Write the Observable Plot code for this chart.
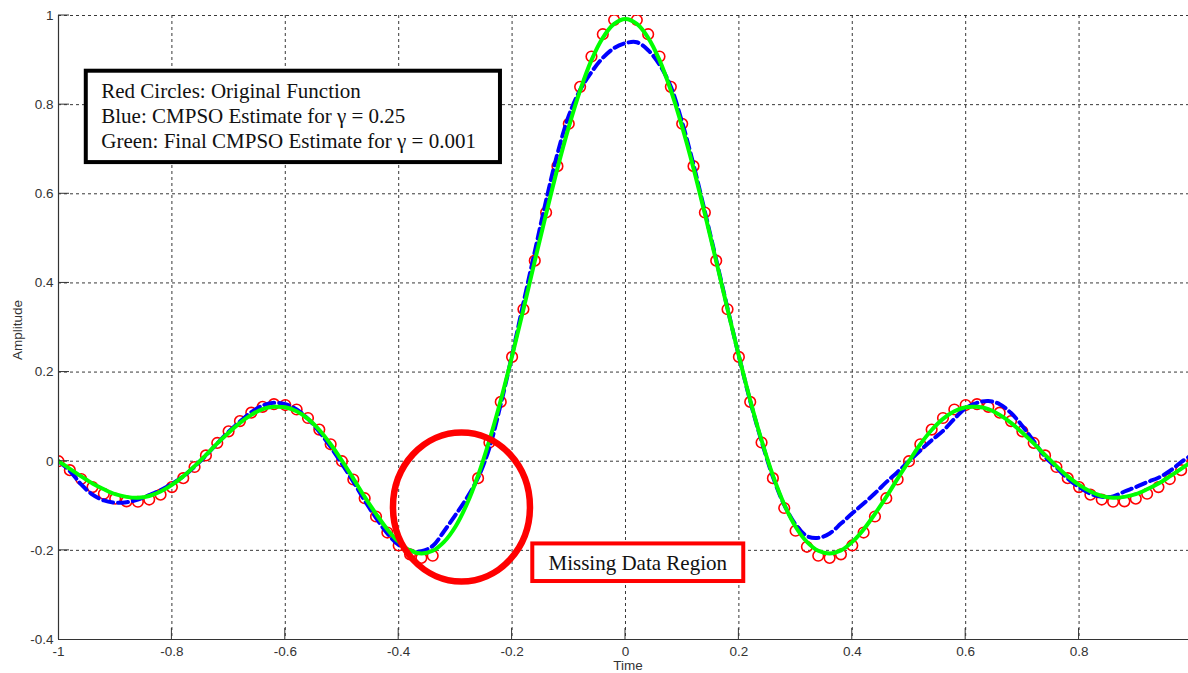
<!DOCTYPE html>
<html>
<head>
<meta charset="utf-8">
<script src="https://cdn.jsdelivr.net/npm/d3@7"></script>
<script src="https://cdn.jsdelivr.net/npm/@observablehq/plot@0.6"></script>
<style>
  html, body { margin: 0; padding: 0; background: #fff; }
  #chart svg { display: block; }
</style>
</head>
<body>
<div id="chart"></div>
<script>
// ---------- data ----------
const time = [
  -1.00, -0.98, -0.96, -0.94, -0.92, -0.90, -0.88, -0.86, -0.84, -0.82,
  -0.80, -0.78, -0.76, -0.74, -0.72, -0.70, -0.68, -0.66, -0.64, -0.62,
  -0.60, -0.58, -0.56, -0.54, -0.52, -0.50, -0.48, -0.46, -0.44, -0.42,
  -0.40, -0.38, -0.36, -0.34, -0.32, -0.30, -0.28, -0.26, -0.24, -0.22,
  -0.20, -0.18, -0.16, -0.14, -0.12, -0.10, -0.08, -0.06, -0.04, -0.02,
   0.00,  0.02,  0.04,  0.06,  0.08,  0.10,  0.12,  0.14,  0.16,  0.18,
   0.20,  0.22,  0.24,  0.26,  0.28,  0.30,  0.32,  0.34,  0.36,  0.38,
   0.40,  0.42,  0.44,  0.46,  0.48,  0.50,  0.52,  0.54,  0.56,  0.58,
   0.60,  0.62,  0.64,  0.66,  0.68,  0.70,  0.72,  0.74,  0.76,  0.78,
   0.80,  0.82,  0.84,  0.86,  0.88,  0.90,  0.92,  0.94,  0.96,  0.98,
   1.00
];
// red circles (original function); null = sample not shown (missing data / hidden)
const original = [
  0.000, -0.020, -0.040, -0.058, -0.073, -0.084, -0.090, -0.091, -0.086, -0.075,
  -0.058, -0.038, -0.013, 0.013, 0.041, 0.067, 0.090, 0.109, 0.122, 0.128,
  0.126, 0.116, 0.097, 0.071, 0.038, 0.000, -0.041, -0.083, -0.124, -0.160,
  -0.189, -0.209, -0.217, -0.212, null, null, null, -0.038, 0.042, 0.133,
  0.234, 0.341, 0.450, 0.558, 0.662, 0.757, 0.840, 0.908, 0.958, 0.990,
  null, 0.990, 0.958, 0.908, 0.840, 0.757, 0.662, 0.558, 0.450, 0.341,
  0.234, 0.133, 0.042, -0.038, -0.105, -0.156, -0.192, -0.212, -0.217, -0.209,
  -0.189, -0.160, -0.124, -0.083, -0.041, 0.000, 0.038, 0.071, 0.097, 0.116,
  0.126, 0.128, 0.122, 0.109, 0.090, 0.067, 0.041, 0.013, -0.013, -0.038,
  -0.058, -0.075, -0.086, -0.091, -0.090, -0.084, -0.073, -0.058, -0.040, -0.020,
  0.000
];
// blue dashed: CMPSO estimate, gamma = 0.25
const estimateBlue = [
  0.000, -0.022, -0.052, -0.075, -0.088, -0.093, -0.092, -0.086, -0.076, -0.065,
  -0.051, -0.034, -0.012, 0.013, 0.040, 0.066, 0.089, 0.110, 0.125, 0.131,
  0.128, 0.116, 0.095, 0.066, 0.032, -0.006, -0.046, -0.088, -0.127, -0.162,
  -0.188, -0.201, -0.202, -0.190, -0.157, -0.121, -0.083, -0.037, 0.030, 0.128,
  0.238, 0.355, 0.470, 0.585, 0.690, 0.775, 0.833, 0.873, 0.905, 0.927,
  0.938, 0.940, 0.922, 0.890, 0.840, 0.760, 0.665, 0.560, 0.452, 0.343,
  0.236, 0.135, 0.045, -0.035, -0.098, -0.142, -0.168, -0.172, -0.162, -0.140,
  -0.117, -0.095, -0.072, -0.047, -0.024, 0.000, 0.024, 0.047, 0.068, 0.095,
  0.119, 0.131, 0.135, 0.128, 0.108, 0.079, 0.045, 0.010, -0.014, -0.039,
  -0.058, -0.073, -0.080, -0.079, -0.068, -0.058, -0.047, -0.037, -0.022, -0.002,
  0.015
];
// green solid: final CMPSO estimate, gamma = 0.001
const estimateGreen = [
  0.000, -0.017, -0.034, -0.050, -0.063, -0.074, -0.080, -0.082, -0.078, -0.068,
  -0.053, -0.034, -0.011, 0.014, 0.040, 0.064, 0.086, 0.104, 0.117, 0.122,
  0.121, 0.112, 0.095, 0.070, 0.038, 0.001, -0.039, -0.080, -0.118, -0.153,
  -0.181, -0.200, -0.207, -0.201, -0.181, -0.147, -0.097, -0.032, 0.047, 0.137,
  0.236, 0.341, 0.449, 0.555, 0.657, 0.750, 0.832, 0.900, 0.950, 0.981,
  0.992, 0.981, 0.950, 0.900, 0.832, 0.750, 0.657, 0.555, 0.449, 0.341,
  0.236, 0.137, 0.047, -0.032, -0.097, -0.147, -0.181, -0.201, -0.207, -0.200,
  -0.181, -0.153, -0.118, -0.080, -0.039, 0.000, 0.038, 0.070, 0.095, 0.112,
  0.121, 0.122, 0.117, 0.104, 0.086, 0.064, 0.040, 0.014, -0.011, -0.034,
  -0.053, -0.068, -0.078, -0.082, -0.080, -0.074, -0.063, -0.050, -0.034, -0.017,
  0.000
];
const xTicks = [-1, -0.8, -0.6, -0.4, -0.2, 0, 0.2, 0.4, 0.6, 0.8];
const yTicks = [-0.4, -0.2, 0, 0.2, 0.4, 0.6, 0.8, 1];
const xDomain = [-1, 0.993];
const yDomain = [-0.4, 1];
const legendLines = [
  "Red Circles: Original Function",
  "Blue: CMPSO Estimate for \u03b3 = 0.25",
  "Green: Final CMPSO Estimate for \u03b3 = 0.001"
];
const missingLabel = "Missing Data Region";
const xLabel = "Time";
const yLabel = "Amplitude";
// annotation anchors in data units
const legendBox = {x1: -0.951, x2: -0.2205, y1: 0.670, y2: 0.875};
const missingBox = {x1: -0.1635, x2: 0.2086, y1: -0.2699, y2: -0.1856};
const missingEllipse = {cx: -0.2884, cy: -0.1037, rx: 0.1208, ry: 0.1672};

// ---------- build tables ----------
const redPts = time.map((t, i) => ({t, v: original[i]})).filter(d => d.v !== null);
const bluePts = time.map((t, i) => ({t, v: estimateBlue[i]}));
const greenPts = time.map((t, i) => ({t, v: estimateGreen[i]}));

const gridStyle = {stroke: "#222", strokeOpacity: 0.9, strokeWidth: 1, strokeDasharray: "3,3"};
const sans = "'Liberation Sans', Arial, sans-serif";

const chart = Plot.plot({
  width: 1188,
  height: 673,
  marginLeft: 58,
  marginRight: 0,
  marginTop: 15,
  marginBottom: 34,
  style: {fontFamily: sans, fontSize: "13.5px", color: "#333", background: "#fff"},
  x: {domain: xDomain, label: null},
  y: {domain: yDomain, label: null},
  marks: [
    Plot.gridX(xTicks.filter(v => v > xDomain[0]), gridStyle),
    Plot.gridY(yTicks.filter(v => v > yDomain[0]), gridStyle),
    Plot.dot(redPts, {x: "t", y: "v", r: 5.3, stroke: "#ff0000", strokeWidth: 1.6, fill: "none", clip: true}),
    Plot.line(bluePts, {x: "t", y: "v", stroke: "#0000ff", strokeWidth: 4, strokeDasharray: "10,5", curve: "catmull-rom", clip: true}),
    Plot.line(greenPts, {x: "t", y: "v", stroke: "#00ff00", strokeWidth: 4, curve: "catmull-rom", clip: true}),
    Plot.ruleX([xDomain[0]], {stroke: "#333", strokeWidth: 1.2}),
    Plot.ruleY([yDomain[0]], {stroke: "#333", strokeWidth: 1.2}),
    Plot.axisX(xTicks, {tickSize: 0, tickPadding: 7, tickFormat: d => String(d), fill: "#333", fontSize: 13.5}),
    Plot.axisY(yTicks, {tickSize: 0, tickPadding: 5, tickFormat: d => String(d), fill: "#333", fontSize: 13.5})
  ]
});

document.getElementById("chart").appendChild(chart);

// ---------- ticks (inward), labels, annotations ----------
const sx = chart.scale("x"), sy = chart.scale("y");
const X = v => sx.apply(v), Y = v => sy.apply(v);
const svg = d3.select(chart);
const x0 = X(xDomain[0]), yb = Y(yDomain[0]);

const tickG = svg.append("g").attr("stroke", "#333").attr("stroke-width", 1);
xTicks.filter(v => v > xDomain[0]).forEach(v => {
  tickG.append("line").attr("x1", X(v)).attr("x2", X(v)).attr("y1", yb).attr("y2", yb - 11);
});
yTicks.filter(v => v > yDomain[0]).forEach(v => {
  tickG.append("line").attr("x1", x0).attr("x2", x0 + 11).attr("y1", Y(v)).attr("y2", Y(v));
});

svg.append("text")
  .attr("x", (X(xDomain[0]) + X(xDomain[1])) / 2 + 5).attr("y", 670)
  .attr("text-anchor", "middle")
  .attr("font-family", sans).attr("font-size", 13.5).attr("fill", "#333")
  .text(xLabel);
svg.append("text")
  .attr("transform", `translate(17,${(Y(yDomain[0]) + Y(yDomain[1])) / 2 + 3}) rotate(-90)`)
  .attr("text-anchor", "middle").attr("dy", "0.35em")
  .attr("font-family", sans).attr("font-size", 13.5).attr("fill", "#333")
  .text(yLabel);

const serif = "'Liberation Serif', 'Times New Roman', serif";

// legend box
const lb = {left: X(legendBox.x1), right: X(legendBox.x2), top: Y(legendBox.y2), bottom: Y(legendBox.y1)};
svg.append("rect")
  .attr("x", lb.left).attr("y", lb.top)
  .attr("width", lb.right - lb.left).attr("height", lb.bottom - lb.top)
  .attr("fill", "#fff").attr("stroke", "#000").attr("stroke-width", 4);
legendLines.forEach((s, i) => {
  svg.append("text")
    .attr("x", lb.left + 15.5).attr("y", lb.top + 27.3 + i * 25)
    .attr("text-anchor", "start")
    .attr("font-family", serif).attr("font-size", 21).attr("fill", "#111")
    .text(s);
});

// missing data ellipse
svg.append("ellipse")
  .attr("cx", X(missingEllipse.cx)).attr("cy", Y(missingEllipse.cy))
  .attr("rx", X(missingEllipse.cx + missingEllipse.rx) - X(missingEllipse.cx))
  .attr("ry", Y(missingEllipse.cy) - Y(missingEllipse.cy + missingEllipse.ry))
  .attr("fill", "none").attr("stroke", "#ff0000").attr("stroke-width", 6.5);

// missing data box
const mb = {left: X(missingBox.x1), right: X(missingBox.x2), top: Y(missingBox.y2), bottom: Y(missingBox.y1)};
svg.append("rect")
  .attr("x", mb.left).attr("y", mb.top)
  .attr("width", mb.right - mb.left).attr("height", mb.bottom - mb.top)
  .attr("fill", "#fff").attr("stroke", "#ff0000").attr("stroke-width", 4);
svg.append("text")
  .attr("x", (mb.left + mb.right) / 2).attr("y", mb.top + 27)
  .attr("text-anchor", "middle")
  .attr("font-family", serif).attr("font-size", 21).attr("fill", "#111")
  .text(missingLabel);
</script>
</body>
</html>
